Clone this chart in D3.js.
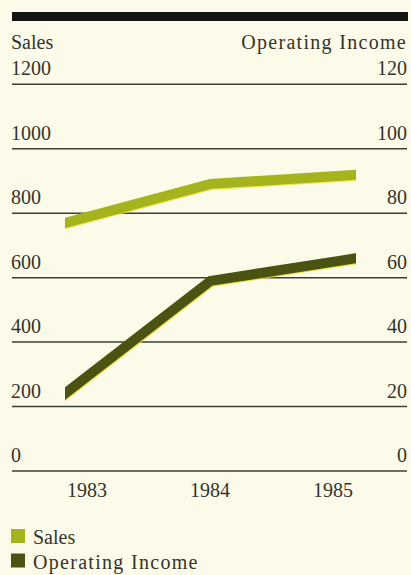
<!DOCTYPE html>
<html><head><meta charset="utf-8">
<script src="https://cdn.jsdelivr.net/npm/d3@7"></script>
<style>
html,body{margin:0;padding:0;background:#fcfbea;}
svg{display:block}
text{font-family:"Liberation Serif","DejaVu Serif",serif;fill:#34342a;}
</style>
</head><body>
<svg id="chart" width="411" height="575"></svg>
<script>
// Fiscal years and the two plotted series
const years = ["1983", "1984", "1985"];
const sales = [770, 891, 919];
const operatingIncome = [24, 59, 66];

// Axis tick values (left: sales, right: operating income)
const salesTicks = [0, 200, 400, 600, 800, 1000, 1200];
const incomeTicks = [0, 20, 40, 60, 80, 100, 120];

// Legend entries
const seriesNames = ["Sales", "Operating Income"];
const seriesColors = ["#a5b31c", "#4a5312"];

const svg = d3.select("#chart");

const gridLeft = 12, gridRight = 407, gridTop = 84.3, gridBottom = 471;

const ySales = d3.scaleLinear().domain([0, 1200]).range([gridBottom, gridTop]);
const yIncome = d3.scaleLinear().domain([0, 120]).range([gridBottom, gridTop]);
const xLine = d3.scalePoint().domain(years).range([65, 356]);
const xLabel = d3.scalePoint().domain(years).range([87, 333]);

// Heavy rule across the top
svg.append("rect")
  .attr("x", 12).attr("y", 12).attr("width", 396).attr("height", 9)
  .attr("fill", "#121410");

// Axis titles
svg.append("text").attr("x", 11).attr("y", 49)
  .attr("font-size", 20).text("Sales");
svg.append("text").attr("x", 407).attr("y", 49)
  .attr("font-size", 20).attr("text-anchor", "end")
  .attr("letter-spacing", 1.3).text("Operating Income");

// Horizontal grid lines
svg.append("g").selectAll("line").data(salesTicks).join("line")
  .attr("x1", gridLeft).attr("x2", gridRight)
  .attr("y1", d => ySales(d)).attr("y2", d => ySales(d))
  .attr("stroke", "#3b4034").attr("stroke-width", 1.5);

// Left tick labels (sales)
svg.append("g").selectAll("text").data(salesTicks).join("text")
  .attr("x", 11).attr("y", d => ySales(d) - 9)
  .attr("font-size", 20).text(d => d);

// Right tick labels (operating income)
svg.append("g").selectAll("text").data(incomeTicks).join("text")
  .attr("x", 407).attr("y", d => yIncome(d) - 9)
  .attr("text-anchor", "end")
  .attr("font-size", 20).text(d => d);

// Year labels
svg.append("g").selectAll("text").data(years).join("text")
  .attr("x", d => xLabel(d)).attr("y", 497)
  .attr("text-anchor", "middle")
  .attr("font-size", 20).text(d => d);

// Series lines: thick bands cut square at the first and last year
svg.append("clipPath").attr("id", "plotClip")
  .append("rect")
  .attr("x", xLine(years[0])).attr("y", 0)
  .attr("width", xLine(years[years.length - 1]) - xLine(years[0]))
  .attr("height", 575);

const series = [
  { values: sales, y: ySales, color: seriesColors[0] },
  { values: operatingIncome, y: yIncome, color: seriesColors[1] }
];

const plot = svg.append("g").attr("clip-path", "url(#plotClip)");

series.forEach(s => {
  const pts = s.values;
  // extend slightly past each end so the clip gives a vertical cut
  const ext = [pts[0] - (pts[1] - pts[0]) * 0.1, ...pts, pts[2] + (pts[2] - pts[1]) * 0.1];
  const lineExt = d3.line()
    .x((d, i) => {
      if (i === 0) return xLine(years[0]) - (xLine(years[1]) - xLine(years[0])) * 0.1;
      if (i === ext.length - 1) return xLine(years[2]) + (xLine(years[2]) - xLine(years[1])) * 0.1;
      return xLine(years[i - 1]);
    })
    .y(d => s.y(d));
  // faint yellow register edge beneath
  plot.append("path")
    .attr("d", lineExt(ext))
    .attr("transform", "translate(0.5,1.1)")
    .attr("fill", "none").attr("stroke", "#efe02a").attr("stroke-opacity", 0.85)
    .attr("stroke-width", 10).attr("stroke-linejoin", "miter");
  plot.append("path")
    .attr("d", lineExt(ext))
    .attr("fill", "none").attr("stroke", s.color)
    .attr("stroke-width", 10).attr("stroke-linejoin", "miter");
});

// Legend
const legend = svg.append("g").selectAll("g").data(seriesNames).join("g")
  .attr("transform", (d, i) => `translate(11, ${529 + i * 24.5})`);
legend.append("rect")
  .attr("width", 14).attr("height", 14)
  .attr("fill", (d, i) => seriesColors[i]);
legend.append("text")
  .attr("x", 22).attr("y", 15)
  .attr("font-size", 20)
  .attr("letter-spacing", (d, i) => i === 1 ? 1.3 : 0)
  .text(d => d);
</script>
</body></html>
